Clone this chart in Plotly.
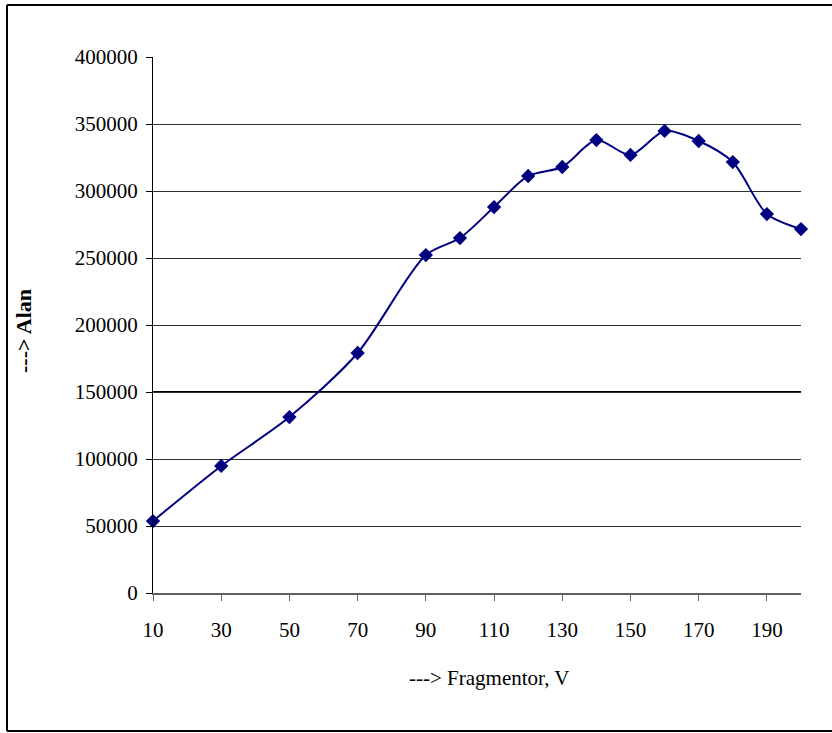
import plotly.graph_objects as go

fragmentor_v = [10, 30, 50, 70, 90, 100, 110, 120, 130, 140, 150, 160, 170, 180, 190, 200]
alan = [53700, 94800, 131300, 179100, 252200, 264900, 288000, 311200, 317900,
        338000, 326900, 344800, 337300, 321600, 282800, 271600]
x_ticks = [10, 30, 50, 70, 90, 110, 130, 150, 170, 190]
y_ticks = [0, 50000, 100000, 150000, 200000, 250000, 300000, 350000, 400000]
y_tick_text = [str(v) for v in y_ticks]

L, R, T, B = 153, 31, 57, 140
W, H = 832, 733
pw, ph = W - L - R, H - T - B

def px(xp):
    return (xp - L) / pw

def py(yp):
    return (H - B - yp) / ph

font = "Liberation Serif, Times New Roman, serif"

fig = go.Figure()
fig.add_trace(go.Scatter(
    x=fragmentor_v, y=alan, mode="lines+markers",
    line=dict(color="#000080", width=2, shape="spline", smoothing=0.8),
    marker=dict(symbol="diamond", size=11, color="#000080"),
    cliponaxis=False, showlegend=False,
))

# thicker 150000 gridline
fig.add_shape(type="line", xref="paper", yref="y", x0=0, x1=1, y0=150000, y1=150000,
              line=dict(color="black", width=2), layer="below")

# outer frame (top, left, bottom)
fig.add_shape(type="line", xref="paper", yref="paper", x0=px(7), x1=px(832), y0=py(5), y1=py(5),
              line=dict(color="black", width=2))
fig.add_shape(type="line", xref="paper", yref="paper", x0=px(7), x1=px(7), y0=py(5), y1=py(731),
              line=dict(color="black", width=2))
fig.add_shape(type="line", xref="paper", yref="paper", x0=px(7), x1=px(832), y0=py(731), y1=py(731),
              line=dict(color="black", width=2))

fig.add_annotation(text="---> Fragmentor, V", xref="paper", yref="paper",
                   x=px(489), y=py(678), xanchor="center", yanchor="middle", showarrow=False,
                   font=dict(family=font, size=21, color="black"))
fig.add_annotation(text="<b>---> Alan</b>", xref="paper", yref="paper",
                   x=px(23), y=py(331), xanchor="center", yanchor="middle", showarrow=False,
                   textangle=-90, font=dict(family=font, size=22, color="black"))

fig.update_layout(
    width=W, height=H,
    margin=dict(l=L, r=R, t=T, b=B),
    paper_bgcolor="white", plot_bgcolor="white",
    font=dict(family=font, size=21, color="black"),
    xaxis=dict(range=[10, 200], tickvals=x_ticks, ticks="outside", ticklen=6,
               tickcolor="#606060", showgrid=False, showline=True, linecolor="#606060",
               linewidth=2, zeroline=False, tickfont=dict(size=21), ticklabelstandoff=11),
    yaxis=dict(range=[0, 400000], tickvals=y_ticks, ticktext=y_tick_text, ticks="outside",
               ticklen=6, tickcolor="black", showgrid=True, gridcolor="#303030", gridwidth=1,
               showline=True, linecolor="black", linewidth=1, zeroline=False,
               tickfont=dict(size=21), ticklabelstandoff=4),
)

fig.write_html("out.html", config={"displayModeBar": False},
               post_script="document.body.style.margin='0';")
